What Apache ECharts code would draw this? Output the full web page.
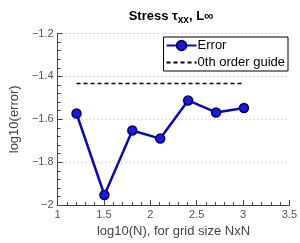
<!DOCTYPE html>
<html><head><meta charset="utf-8">
<script src="https://cdn.jsdelivr.net/npm/echarts@6/dist/echarts.min.js"></script>
<style>html,body{margin:0;padding:0;background:#fff}#c{width:300px;height:243px}</style>
</head><body><div id="c"></div>
<script>
const xVals = [1.204, 1.505, 1.806, 2.107, 2.408, 2.709, 3.010];
const errorVals = [-1.573, -1.953, -1.652, -1.690, -1.512, -1.568, -1.547];
const guideX = [1.204, 3.010];
const guideY = [-1.433, -1.433];
const seriesNames = ['Error', '0th order guide'];
const titleText = ['Stress τ', 'xx', ', L∞'];
const xLabel = 'log10(N), for grid size NxN';
const yLabel = 'log10(error)';

const font = 'Liberation Sans, Arial, sans-serif';
const fmt = v => String(+v.toFixed(2)).replace('-', '−');
const chart = echarts.init(document.getElementById('c'), null, {renderer: 'canvas'});
chart.setOption({
  animation: false,
  title: {
    text: '{a|' + titleText[0] + '}{s|' + titleText[1] + '}{a|' + titleText[2] + '}',
    left: 166, top: 3, textAlign: 'center',
    textStyle: { rich: {
      a: {fontFamily: font, fontWeight: 'bold', fontSize: 13, color: '#000'},
      s: {fontFamily: font, fontWeight: 'bold', fontSize: 10, color: '#000', verticalAlign: 'bottom', padding: [7, 0, 0, 0]}
    }}
  },
  legend: {
    right: 12, top: 37, orient: 'vertical', itemGap: 4,
    padding: [2, 3, 2, 2],
    borderColor: '#000', borderWidth: 1, backgroundColor: '#fff',
    itemWidth: 30, itemHeight: 12,
    textStyle: {fontFamily: font, fontSize: 13, color: '#000', padding: [0, 0, 0, -4]},
    data: [
      {name: seriesNames[0]},
      {name: seriesNames[1], itemStyle: {opacity: 0}}
    ]
  },
  grid: {left: 46, right: 10, top: 33.5, bottom: 34, containLabel: false},
  xAxis: {
    type: 'value', min: 1, max: 3.5, interval: 0.5,
    name: xLabel, nameLocation: 'middle', nameGap: 19,
    nameTextStyle: {fontFamily: font, fontSize: 13, color: '#444'},
    axisLine: {lineStyle: {color: '#444', width: 1}},
    axisTick: {inside: true, length: 5, lineStyle: {color: '#444'}},
    minorTick: {show: true, splitNumber: 5, length: 3, lineStyle: {color: '#444'}},
    axisLabel: {fontFamily: font, fontSize: 11, color: '#555', margin: 4, formatter: fmt},
    splitLine: {show: false}
  },
  yAxis: {
    type: 'value', min: -2, max: -1.2, interval: 0.2,
    name: yLabel, nameLocation: 'middle', nameGap: 32,
    nameTextStyle: {fontFamily: font, fontSize: 13, color: '#444'},
    axisLine: {show: true, lineStyle: {color: '#444', width: 1}},
    axisTick: {show: true, inside: true, length: 5, lineStyle: {color: '#444'}},
    minorTick: {show: true, splitNumber: 5, length: 3, lineStyle: {color: '#444'}},
    axisLabel: {fontFamily: font, fontSize: 11, color: '#555', margin: 4, formatter: fmt},
    splitLine: {show: true, lineStyle: {color: '#bbb', type: [1, 3], width: 1}}
  },
  series: [
    {
      name: seriesNames[0], type: 'line',
      data: xVals.map((x, i) => [x, errorVals[i]]),
      symbol: 'circle', symbolSize: 9,
      lineStyle: {color: '#0a0ab4', width: 2.5},
      itemStyle: {color: '#1b1bd0', borderColor: '#00007a', borderWidth: 1.5},
      z: 3
    },
    {
      name: seriesNames[1], type: 'line',
      data: guideX.map((x, i) => [x, guideY[i]]),
      symbol: 'none',
      lineStyle: {color: '#000', width: 1.5, type: [4, 3]},
      itemStyle: {color: '#000'},
      z: 2
    }
  ]
});
</script></body></html>
